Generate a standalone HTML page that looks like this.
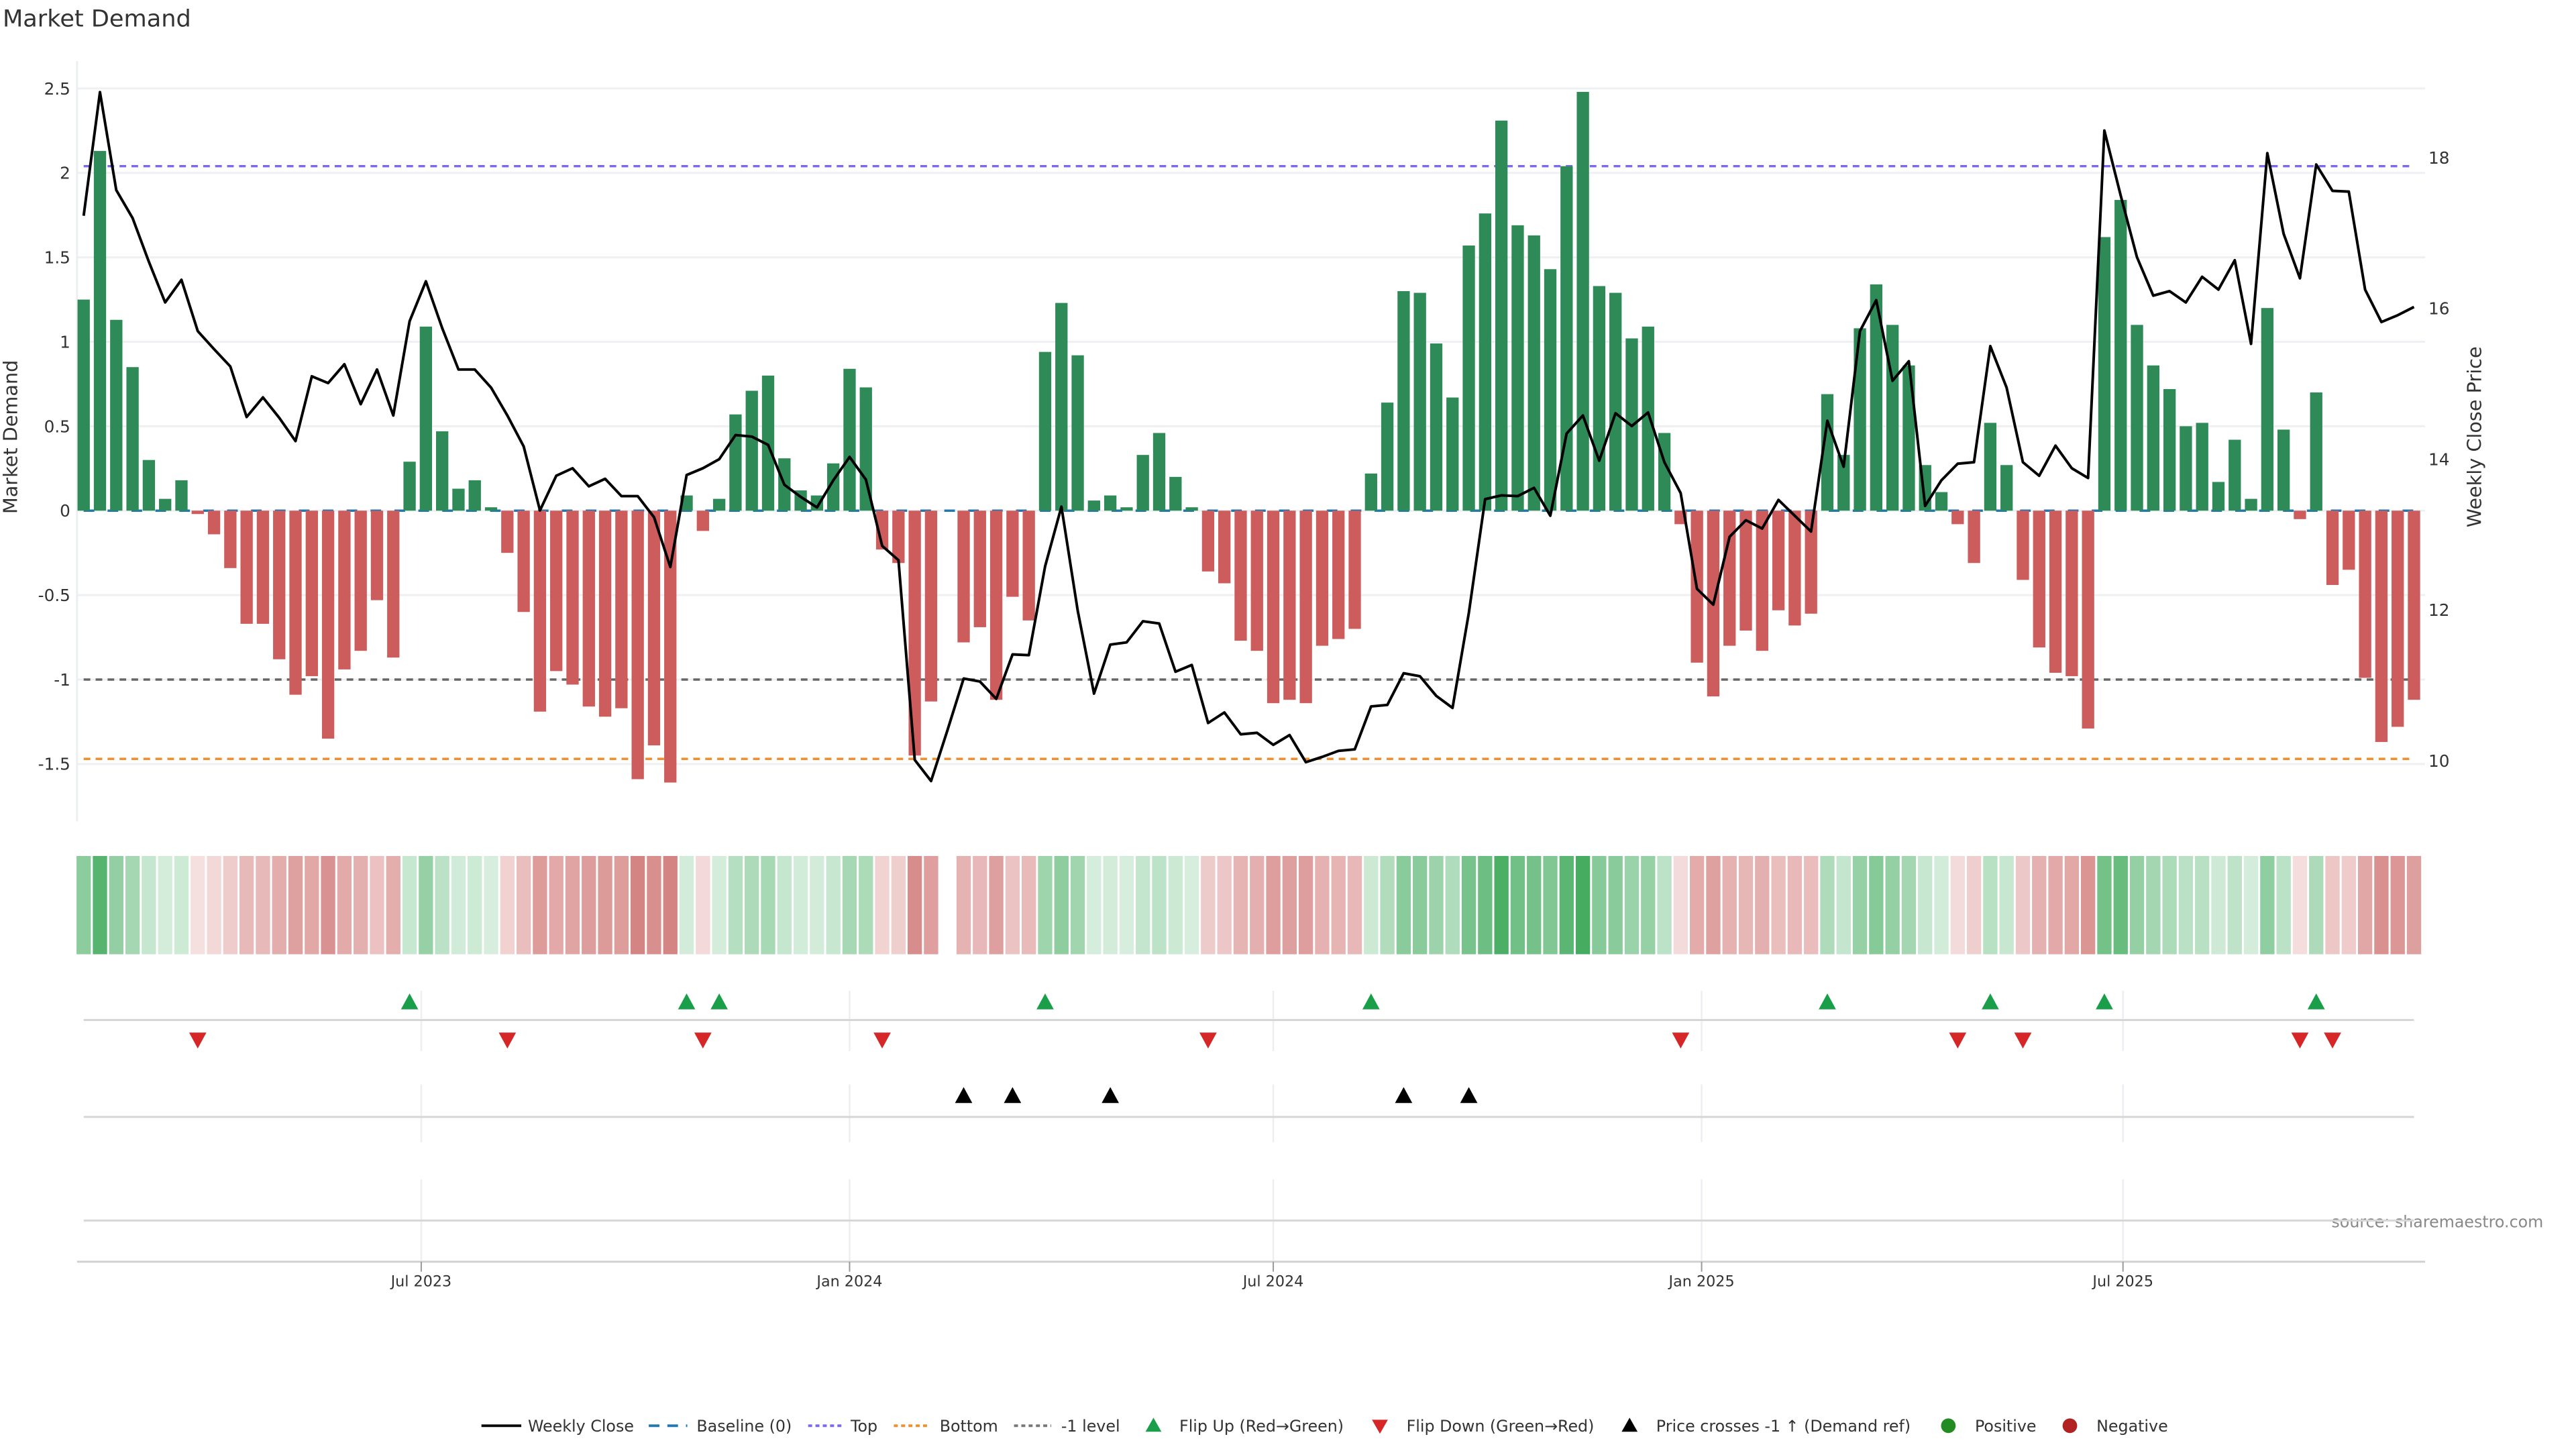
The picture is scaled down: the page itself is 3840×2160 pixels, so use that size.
<!DOCTYPE html>
<html><head><meta charset="utf-8"><style>
html,body{margin:0;padding:0;background:#fff;}
svg{display:block;font-family:"DejaVu Sans","Liberation Sans",sans-serif;}
</style></head><body>
<svg width="3840" height="2160" viewBox="0 0 3840 2160" xmlns="http://www.w3.org/2000/svg">
<g id="chart" transform="scale(0.9899)">
<text x="4" y="40" font-size="35.5" fill="#333">Market Demand</text>
<text transform="translate(26,658) rotate(-90)" text-anchor="middle" font-size="29" fill="#333">Market Demand</text>
<text transform="translate(3736,658) rotate(-90)" text-anchor="middle" font-size="29" fill="#333">Weekly Close Price</text>
<text x="3830" y="1848" text-anchor="end" font-size="24" fill="#888">source: sharemaestro.com</text>
<g id="legend" font-size="24" fill="#333">
<g><line x1="725" y1="2147" x2="785" y2="2147" stroke="#000" stroke-width="4"/><text x="795" y="2156">Weekly Close</text></g>
<g><line x1="977" y1="2147" x2="1035" y2="2147" stroke="#1f77b4" stroke-width="4" stroke-dasharray="16,12"/><text x="1049" y="2156">Baseline (0)</text></g>
<g><line x1="1217" y1="2147" x2="1267" y2="2147" stroke="#7b68ee" stroke-width="4" stroke-dasharray="6,5"/><text x="1281" y="2156">Top</text></g>
<g><line x1="1346" y1="2147" x2="1400" y2="2147" stroke="#f28e2b" stroke-width="4" stroke-dasharray="6,5"/><text x="1415" y="2156">Bottom</text></g>
<g><line x1="1527" y1="2147" x2="1583" y2="2147" stroke="#777" stroke-width="4" stroke-dasharray="6,5"/><text x="1598" y="2156">-1 level</text></g>
<g><polygon points="1737,2135 1749,2156 1725,2156" fill="#1a9e4a"/><text x="1776" y="2156">Flip Up (Red→Green)</text></g>
<g><polygon points="2066,2138 2090,2138 2078,2159" fill="#d62728"/><text x="2118" y="2156">Flip Down (Green→Red)</text></g>
<g><polygon points="2454,2135 2466,2156 2442,2156" fill="#000"/><text x="2494" y="2156">Price crosses -1 ↑ (Demand ref)</text></g>
<g><circle cx="2934" cy="2147" r="11" fill="#228b22"/><text x="2974" y="2156">Positive</text></g>
<g><circle cx="3117" cy="2147" r="11" fill="#b22222"/><text x="3157" y="2156">Negative</text></g>
</g>
</g>
</svg>
<script>
const demand=[1.25,2.13,1.13,0.85,0.30,0.07,0.18,-0.02,-0.14,-0.34,
-0.67,-0.67,-0.88,-1.09,-0.98,-1.35,-0.94,-0.83,-0.53,-0.87,
0.29,1.09,0.47,0.13,0.18,0.02,-0.25,-0.60,-1.19,-0.95,
-1.03,-1.16,-1.22,-1.17,-1.59,-1.39,-1.61,0.09,-0.12,0.07,
0.57,0.71,0.80,0.31,0.12,0.09,0.28,0.84,0.73,-0.23,
-0.31,-1.45,-1.13,null,-0.78,-0.69,-1.12,-0.51,-0.65,0.94,
1.23,0.92,0.06,0.09,0.02,0.33,0.46,0.20,0.02,-0.36,
-0.43,-0.77,-0.83,-1.14,-1.12,-1.14,-0.80,-0.76,-0.70,0.22,
0.64,1.30,1.29,0.99,0.67,1.57,1.76,2.31,1.69,1.63,
1.43,2.04,2.48,1.33,1.29,1.02,1.09,0.46,-0.08,-0.90,
-1.10,-0.80,-0.71,-0.83,-0.59,-0.68,-0.61,0.69,0.33,1.08,
1.34,1.10,0.86,0.27,0.11,-0.08,-0.31,0.52,0.27,-0.41,
-0.81,-0.96,-0.98,-1.29,1.62,1.84,1.10,0.86,0.72,0.50,
0.52,0.17,0.42,0.07,1.20,0.48,-0.05,0.70,-0.44,-0.35,
-0.99,-1.37,-1.28,-1.12];
const price=[17.23,18.87,17.57,17.20,16.62,16.08,16.38,15.70,15.46,15.23,
14.56,14.82,14.55,14.24,15.10,15.01,15.26,14.73,15.19,14.58,
15.83,16.36,15.74,15.19,15.19,14.95,14.58,14.17,13.32,13.78,
13.88,13.64,13.74,13.51,13.51,13.23,12.57,13.79,13.88,14.00,
14.32,14.30,14.19,13.66,13.50,13.36,13.72,14.03,13.73,12.85,
12.66,10.01,9.73,10.40,11.09,11.05,10.82,11.41,11.40,12.58,
13.37,11.99,10.89,11.54,11.57,11.85,11.82,11.18,11.27,10.50,
10.64,10.35,10.37,10.21,10.34,9.98,10.05,10.13,10.15,10.72,
10.74,11.16,11.12,10.86,10.70,11.96,13.47,13.52,13.51,13.62,
13.25,14.34,14.58,13.98,14.61,14.44,14.62,13.96,13.55,12.28,
12.07,12.97,13.19,13.08,13.46,13.25,13.04,14.51,13.90,15.70,
16.11,15.04,15.30,13.38,13.72,13.94,13.96,15.50,14.95,13.96,
13.78,14.18,13.88,13.75,18.36,17.50,16.68,16.17,16.23,16.08,
16.42,16.25,16.64,15.53,18.06,16.99,16.40,17.91,17.56,17.55,
16.25,15.82,15.91,16.02];
const startDate="2023-02-06";
const tickDates=["2023-07-01","2024-01-01","2024-07-01","2025-01-01","2025-07-01"];
const tickLabels=["Jul 2023","Jan 2024","Jul 2024","Jan 2025","Jul 2025"];
const leftTicks=[-1.5,-1,-0.5,0,0.5,1,1.5,2,2.5];
const rightTicks=[10,12,14,16,18];
const topLevel=2.04;
const bottomLevel=-1.47;
const minusLevel=-1;
const priceCross=[54,57,63,81,85];

const NS="http://www.w3.org/2000/svg";
const svg=document.getElementById('chart');
function mk(tag,attrs,parent){const e=document.createElementNS(NS,tag);for(const k in attrs)e.setAttribute(k,attrs[k]);(parent||svg).appendChild(e);return e;}
const X0=126,DX=24.54,PL=116,PR=3652;
function xs(i){return X0+DX*i;}
function y(v){return 769-254.3*v;}
function yp(p){return 1145.5-113.5*(p-10);}
function dIdx(d){return (new Date(d)-new Date(startDate))/(7*86400000);}
const xEnd=xs(demand.length-1);

const grid=mk('g',{});


leftTicks.forEach(v=>{
  const l=mk('line',{x1:PL,x2:PR,y1:y(v),y2:y(v),stroke:'#eef0f3','stroke-width':3},grid);
  
  
  const t=mk('text',{x:106,y:y(v)+9,'text-anchor':'end','font-size':25,fill:'#333'},grid);
  
  
  t.textContent=String(v);
});
rightTicks.forEach(p=>{
  const t=mk('text',{x:3657,y:yp(p)+9,'font-size':25,fill:'#333'});
  
  
  t.textContent=String(p);
});
const ax=mk('line',{x1:PL,x2:PL,y1:92,y2:1237,stroke:'#eceef1','stroke-width':3});



function hline(v,color,dash,name){const l=mk('line',{x1:X0,x2:xEnd,y1:y(v),y2:y(v),stroke:color,'stroke-width':3.5,'stroke-dasharray':dash});}
hline(0,'#1f77b4','16,20','baseline-zero');
hline(topLevel,'#7b68ee','10,8','top-level-line');
hline(bottomLevel,'#f28e2b','10,8','bottom-level-line');
hline(minusLevel,'#666','10,8','minus1-level-line');

const bars=mk('g',{});


const BW=18.5;
demand.forEach((v,i)=>{
  if(v===null)return;
  const y0=y(0),y1=y(v);
  const r=mk('rect',{x:xs(i)-BW/2,y:Math.min(y0,y1),width:BW,height:Math.max(Math.abs(y1-y0),1),fill:v>=0?'#2e8b57':'#cd5c5c'},bars);
  
  
});

const pl=mk('polyline',{points:price.map((p,i)=>xs(i)+','+yp(p)).join(' '),fill:'none',stroke:'#000','stroke-width':4,'stroke-linejoin':'round'});



const heat=mk('g',{});


function lerp(a,b,t){return a.map((c,k)=>Math.round(c+(b[k]-c)*t));}
demand.forEach((v,i)=>{
  if(v===null)return;
  let col;
  if(v>=0){col=lerp([216,239,223],[70,172,96],Math.min(v/2.4,1));}
  else{col=lerp([246,224,224],[212,132,130],Math.min(-v/1.6,1));}
  const r=mk('rect',{x:xs(i)-DX/2+1.5,y:1289,width:DX-3,height:148,fill:'rgb('+col.join(',')+')'},heat);
  
  
});

[[1492,1583,1536],[1633,1720,1682],[1776,1898,1838]].forEach((p,k)=>{
  tickDates.forEach(d=>{
    const xx=xs(dIdx(d));
    const l=mk('line',{x1:xx,x2:xx,y1:p[0],y2:p[1],stroke:'#eceef1','stroke-width':2.5});
    
    
  });
  const h=mk('line',{x1:X0,x2:xEnd,y1:p[2],y2:p[2],stroke:'#d6d6d6','stroke-width':3});
  
  
});
function tri(cx,cy,up,color,name){
  const pts=up?[cx,cy-13,cx+13,cy+11,cx-13,cy+11]:[cx-13,cy-11,cx+13,cy-11,cx,cy+13];
  const t=mk('polygon',{points:pts.join(','),fill:color});
  
  
}
let prev=null;
demand.forEach((v,i)=>{
  if(v===null)return;
  if(prev!==null){
    if(prev<0&&v>=0)tri(xs(i),1509,true,'#1a9e4a','flip-up-marker');
    if(prev>=0&&v<0)tri(xs(i),1566,false,'#d62728','flip-down-marker');
  }
  prev=v;
});
priceCross.forEach(i=>tri(xs(i),1650,true,'#000','price-cross-marker'));

const xa=mk('line',{x1:PL,x2:PR,y1:1900,y2:1900,stroke:'#d0d0d0','stroke-width':3});


tickDates.forEach((d,k)=>{
  const xx=xs(dIdx(d));
  const tk=mk('line',{x1:xx,x2:xx,y1:1900,y2:1915,stroke:'#999','stroke-width':2});
  
  
  const t=mk('text',{x:xx,y:1937,'text-anchor':'middle','font-size':22.5,fill:'#333'});
  
  
  t.textContent=tickLabels[k];
});
</script>
</body></html>
